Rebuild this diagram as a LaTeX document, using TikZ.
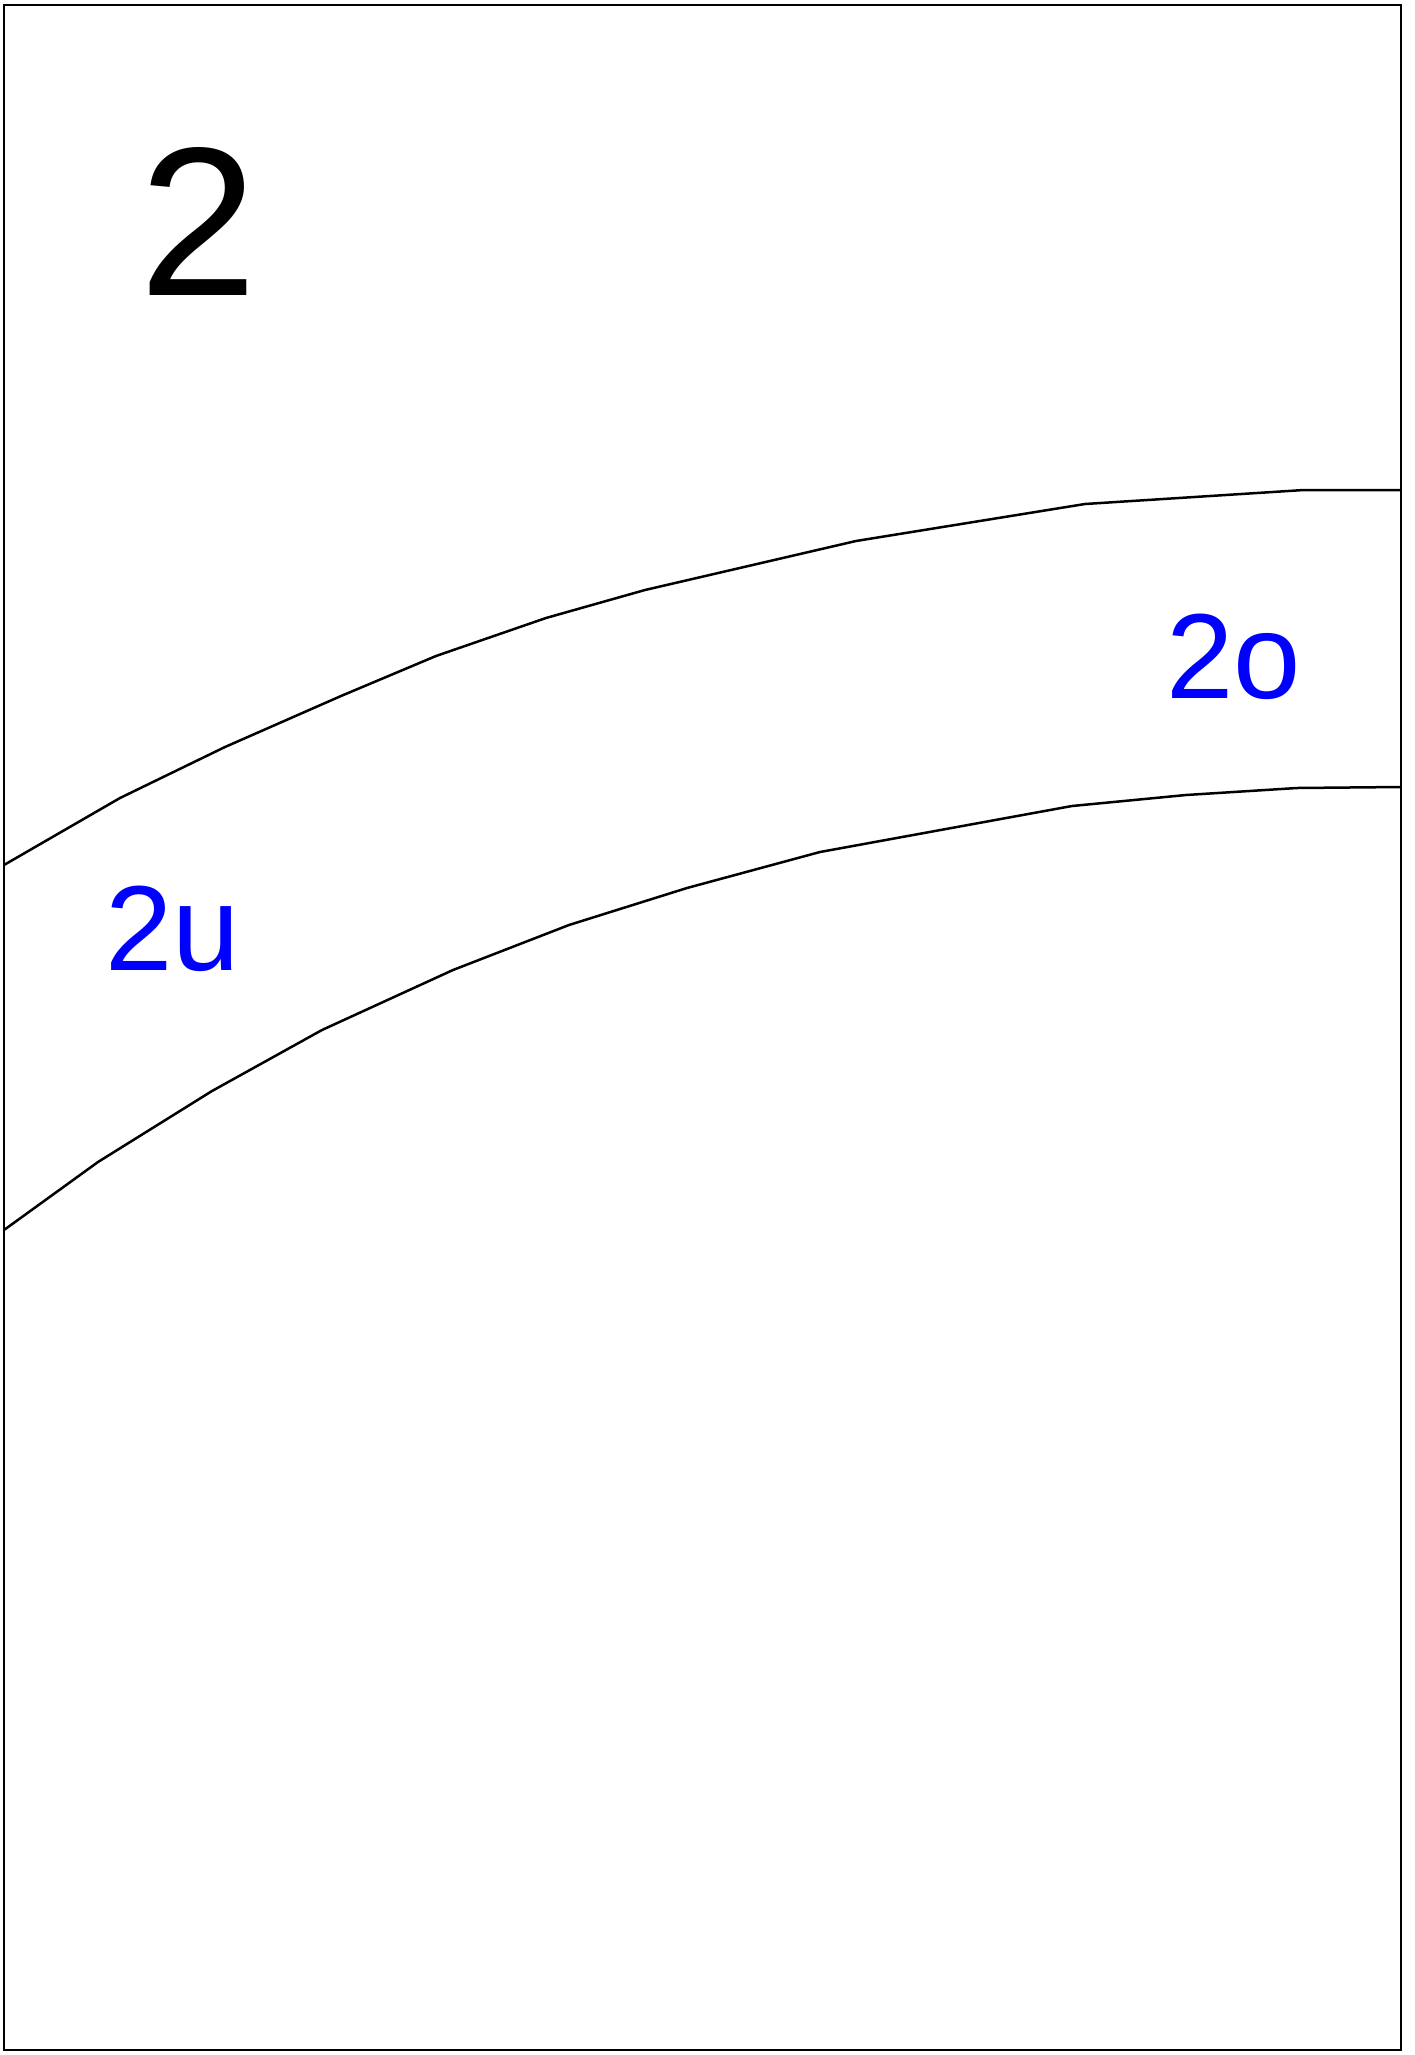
\documentclass[tikz,border=0pt]{standalone}
\usepackage{fontspec}
\setmainfont{Liberation Sans}
\begin{document}
\begin{tikzpicture}[x=1pt,y=-1pt,
  frame/.style={draw=black,line width=2.8pt},
  bound/.style={draw=black,line width=2.5pt,line join=round},
  biglabel/.style={inner sep=0pt,anchor=base,text=black,font=\fontsize{212}{212}\selectfont},
  zonelabel/.style={inner sep=0pt,anchor=base,text=blue,font=\fontsize{121}{121}\selectfont}]
\definecolor{blue}{RGB}{0,0,255}
\useasboundingbox (0,0) rectangle (1415,2055);
\draw[frame] (4,5) rectangle (1401,2050);
% upper boundary
\draw[bound] (4,865) -- (120,798) -- (225,747) -- (341,696) -- (436,656) -- (546,618) -- (645,590) -- (856,541) -- (1085,504) -- (1304,490) -- (1401,490);
% lower boundary
\draw[bound] (4,1230) -- (98,1162) -- (212,1091) -- (322,1030) -- (453,970) -- (569,925) -- (687,888) -- (820,852) -- (1072,806) -- (1186,795) -- (1297,788) -- (1401,787);
\node[biglabel] (n2) at (198,295) {2};
\node[zonelabel] (n2o) at (1234,698) {2o};
\node[zonelabel] (n2u) at (173,970) {2u};
\end{tikzpicture}
\end{document}
